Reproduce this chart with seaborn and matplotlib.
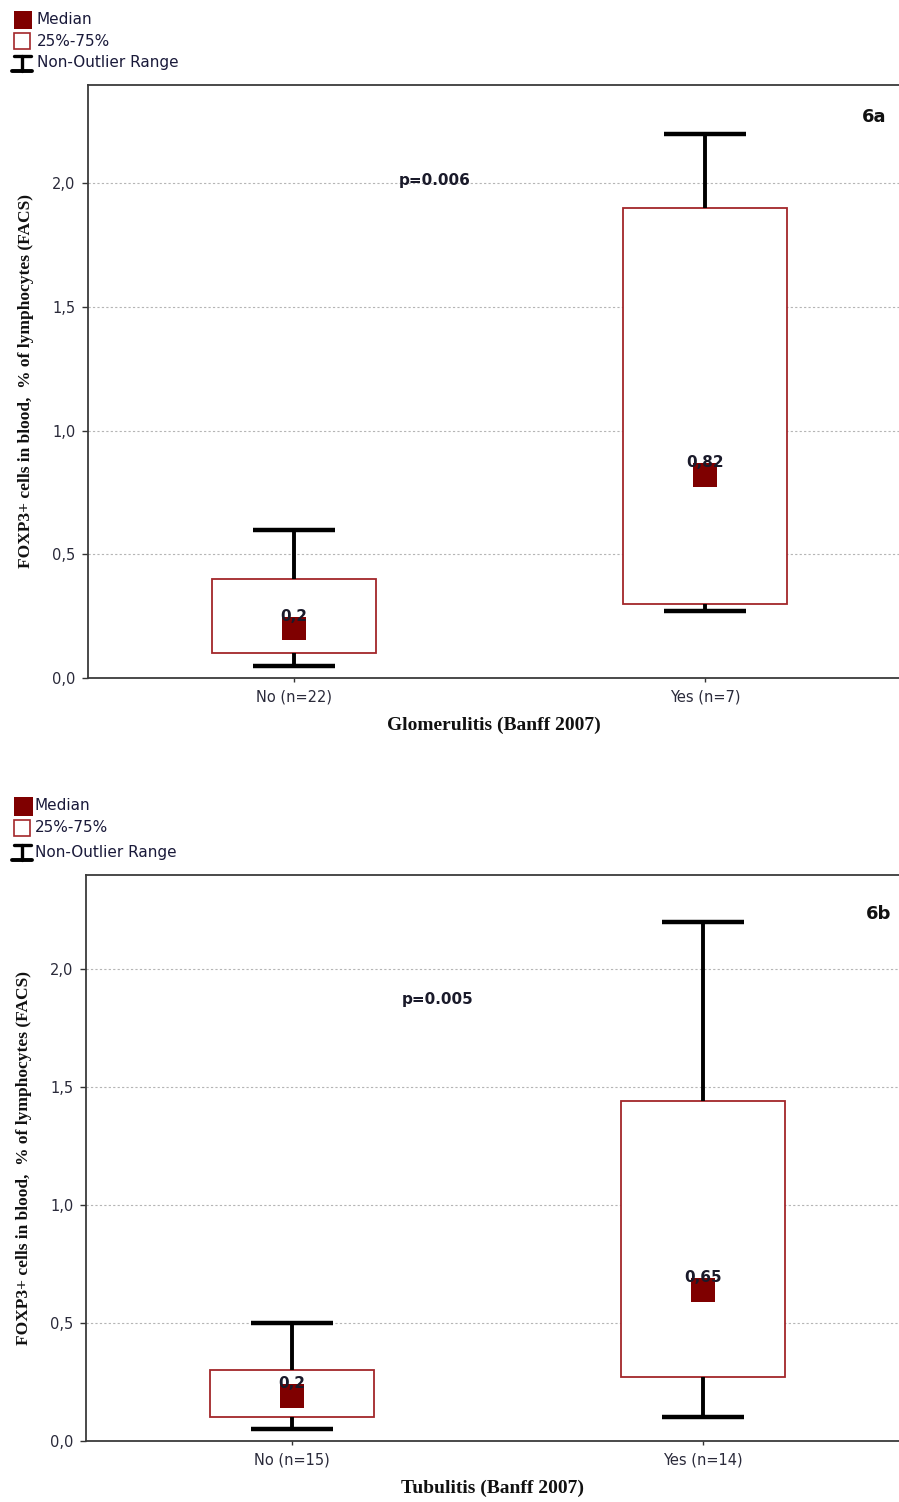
import matplotlib
matplotlib.use("Agg")
import matplotlib.pyplot as plt
from matplotlib.patches import Rectangle
from matplotlib.lines import Line2D
import seaborn as sns
import numpy as np

sns.set_style("white")
plt.rcParams['font.family'] = ['DejaVu Sans']

# ---- data ----
cats_a = ["No (n=22)", "Yes (n=7)"]
whislo_a = [0.05, 0.27]
q1_a = [0.10, 0.30]
med_a = [0.20, 0.82]
q3_a = [0.40, 1.90]
whishi_a = [0.60, 2.20]
medlab_a = ["0,2", "0,82"]

cats_b = ["No (n=15)", "Yes (n=14)"]
whislo_b = [0.05, 0.10]
q1_b = [0.10, 0.27]
med_b = [0.19, 0.64]
q3_b = [0.30, 1.44]
whishi_b = [0.50, 2.20]
medlab_b = ["0,2", "0,65"]

yticks = [0.0, 0.5, 1.0, 1.5, 2.0]
yticklabels = ["0,0", "0,5", "1,0", "1,5", "2,0"]

W, H = 899, 1502
fig = plt.figure(figsize=(W / 100, H / 100), dpi=100)

MED_COLOR = "#7f0000"
BOX_COLOR = "#a3262a"


def px_axes(left, top, right, bottom):
    return fig.add_axes([left / W, 1 - bottom / H, (right - left) / W, (bottom - top) / H])


def panel(ax, cats, wlo, q1, med, q3, whi, medlab, xlabel, ptxt, ppos, tag, tagpos, xr):
    pos = np.arange(len(cats))
    stats = [dict(med=m, q1=a, q3=b, whislo=lo, whishi=hi, fliers=[])
             for m, a, b, lo, hi in zip(med, q1, q3, wlo, whi)]
    ax.bxp(stats, positions=pos, widths=0.4, capwidths=0.2, showfliers=False,
           patch_artist=True,
           boxprops=dict(facecolor="white", edgecolor=BOX_COLOR, linewidth=1.3),
           medianprops=dict(linewidth=0),
           whiskerprops=dict(color="black", linewidth=2.8, solid_capstyle="butt"),
           capprops=dict(color="black", linewidth=3.2, solid_capstyle="butt"),
           zorder=3)
    sns.scatterplot(x=pos, y=med, marker="s", s=290, color=MED_COLOR,
                    edgecolor="none", linewidth=0, ax=ax, legend=False, zorder=4)
    for p, m, lab in zip(pos, med, medlab):
        ax.annotate(lab, (p, m), xytext=(0, 5.5), textcoords="offset points",
                    ha="center", va="baseline", fontsize=11, fontweight="bold",
                    color="#1a1a2a", zorder=5)
    ax.set_xlim(-0.501, xr)
    ax.set_ylim(0, 2.397)
    ax.set_yticks(yticks)
    ax.set_yticklabels(yticklabels)
    ax.set_xticks(pos)
    ax.set_xticklabels(cats)
    ax.tick_params(axis="both", direction="out", length=4, width=1, colors="#333333",
                   labelcolor="#2a2a3a", labelsize=10.5, left=True, bottom=True)
    ax.tick_params(axis="x", length=3, pad=5)
    ax.tick_params(axis="y", pad=5)
    for y in yticks[1:]:
        ax.axhline(y, color="#b5b5b5", linewidth=0.8, linestyle=(0, (2, 2)), zorder=0)
    for s in ["left", "bottom", "top"]:
        ax.spines[s].set_visible(True)
        ax.spines[s].set_color("#3a3a3a")
        ax.spines[s].set_linewidth(1.3)
    ax.spines["right"].set_visible(False)
    ax.set_ylabel("FOXP3+ cells in blood,  % of lymphocytes (FACS)", family="Liberation Serif",
                  fontweight="bold", fontsize=12.5, labelpad=13, color="#111111")
    ax.set_xlabel(xlabel, family="Liberation Serif", fontweight="bold", fontsize=14,
                  labelpad=9, color="#111111")
    ax.text(ppos[0], ppos[1], ptxt, ha="center", va="center", fontsize=11,
            fontweight="bold", color="#1a1a2a")
    ax.text(tagpos[0], tagpos[1], tag, ha="center", va="center", fontsize=13,
            fontweight="bold", color="#111111")


ax1 = px_axes(88, 85, 899, 678)
panel(ax1, cats_a, whislo_a, q1_a, med_a, q3_a, whishi_a, medlab_a,
      "Glomerulitis (Banff 2007)", "p=0.006", (0.343, 2.012), "6a", (1.411, 2.267), 1.472)

ax2 = px_axes(86, 875, 899, 1441)
panel(ax2, cats_b, whislo_b, q1_b, med_b, q3_b, whishi_b, medlab_b,
      "Tubulitis (Banff 2007)", "p=0.005", (0.355, 1.869), "6b", (1.428, 2.233), 1.477)

# ---- legends (pixel overlay) ----
ov = fig.add_axes([0, 0, 1, 1], zorder=10)
ov.set_xlim(0, W)
ov.set_ylim(H, 0)
ov.axis("off")
ov.patch.set_alpha(0)


def legend(x0, ys, sq, tx):
    y1, y2, y3 = ys
    ov.add_patch(Rectangle((x0 + 1, y1 - sq / 2), sq, sq, facecolor=MED_COLOR, edgecolor="none"))
    ov.add_patch(Rectangle((x0 + 1, y2 - 8), 16, 16, facecolor="white", edgecolor=BOX_COLOR, linewidth=1.2))
    ov.add_line(Line2D([x0 + 9, x0 + 9], [y3 - 7, y3 + 8], color="black", linewidth=2.4))
    ov.add_line(Line2D([x0 + 1, x0 + 18], [y3 - 7, y3 - 7], color="black", linewidth=2.4))
    ov.add_line(Line2D([x0 - 1, x0 + 19], [y3 + 8, y3 + 8], color="black", linewidth=2.8))
    for y, t in zip(ys, ["Median", "25%-75%", "Non-Outlier Range"]):
        ov.text(tx, y, t, ha="left", va="center", fontsize=11, color="#1a1a3a")


legend(13, (20, 41, 63), 18, 37)
legend(13, (806, 828, 852), 19, 35)

fig.savefig("out.png", dpi=100)
